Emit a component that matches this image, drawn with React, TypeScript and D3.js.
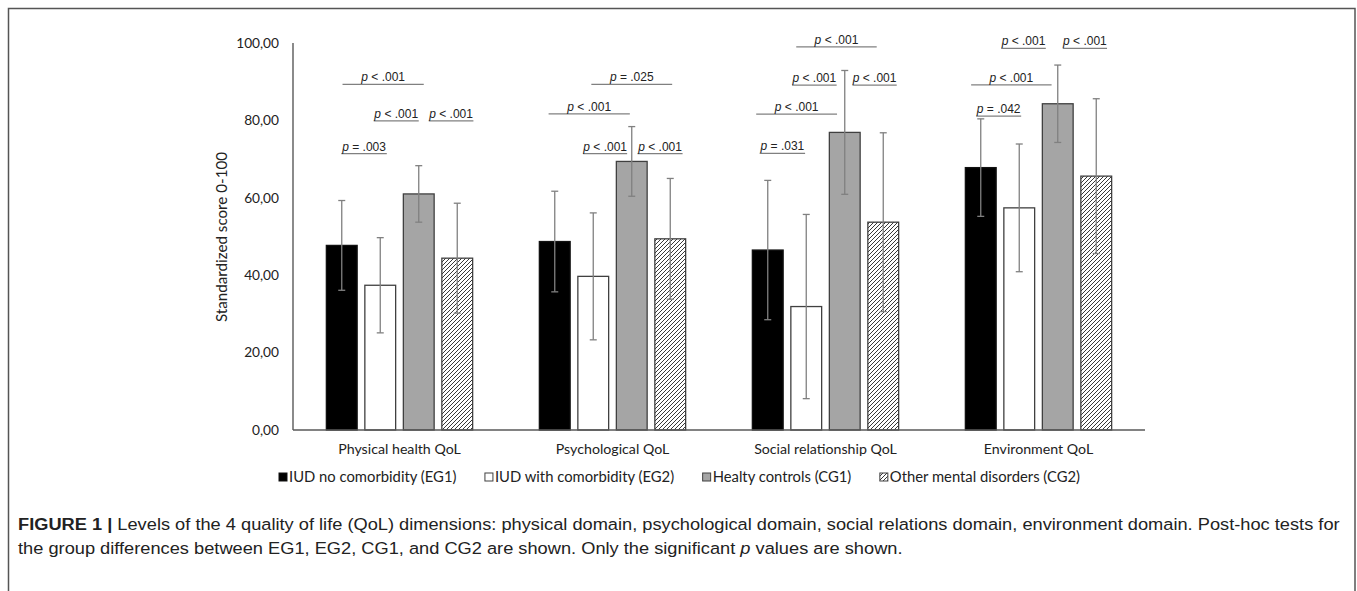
import React, { useLayoutEffect, useRef, useState } from "react";
import * as d3 from "d3";

const categories = ["Physical health QoL", "Psychological QoL", "Social relationship QoL", "Environment QoL"];
const seriesNames = ["IUD no comorbidity (EG1)", "IUD with comorbidity (EG2)", "Healty controls (CG1)", "Other mental disorders (CG2)"];
const seriesKeys = ["EG1", "EG2", "CG1", "CG2"];

const eg1Mean = [47.7, 48.7, 46.5, 67.8];
const eg1Err = [11.6, 13.0, 18.0, 12.6];
const eg2Mean = [37.4, 39.7, 31.9, 57.4];
const eg2Err = [12.3, 16.4, 23.8, 16.5];
const cg1Mean = [61.0, 69.4, 76.9, 84.3];
const cg1Err = [7.3, 9.0, 16.0, 10.0];
const cg2Mean = [44.4, 49.4, 53.7, 65.6];
const cg2Err = [14.2, 15.6, 23.1, 20.0];

const yTicks = [0, 20, 40, 60, 80, 100];

// significance annotations: [label, from slot, to slot, level]
const physicalSig: [string, number, number, number][] = [
  ["< .001", -1.48, 0.63, 89.3],
  ["< .001", -0.67, 0.5, 79.9],
  ["< .001", 0.76, 1.92, 79.9],
  ["= .003", -1.51, -0.33, 71.4],
];
const psychSig: [string, number, number, number][] = [
  ["= .025", -0.55, 1.55, 89.3],
  ["< .001", -1.66, 0.45, 81.7],
  ["< .001", -0.76, 0.38, 71.4],
  ["< .001", 0.65, 1.82, 71.4],
];
const socialSig: [string, number, number, number][] = [
  ["< .001", -0.76, 1.33, 99.0],
  ["< .001", -0.87, 0.29, 89.1],
  ["< .001", 0.7, 1.85, 89.1],
  ["< .001", -1.8, 0.3, 81.6],
  ["= .031", -1.71, -0.53, 71.5],
];
const envSig: [string, number, number, number][] = [
  ["< .001", -0.97, 0.19, 98.6],
  ["< .001", 0.63, 1.78, 98.6],
  ["< .001", -1.75, 0.34, 89.2],
  ["= .042", -1.62, -0.45, 81.1],
];

const captionBold = "FIGURE 1 |";
const captionLine1 =
  " Levels of the 4 quality of life (QoL) dimensions: physical domain, psychological domain, social relations domain, environment domain. Post-hoc tests for";
const captionLine2a = "the group differences between EG1, EG2, CG1, and CG2 are shown. Only the significant ";
const captionLine2b = " values are shown.";

const W = 1357;
const H = 591;
const plotLeft = 293;
const plotRight = 1145;
const plotTop = 43;
const plotBottom = 430;

const labelFont = "Lato, 'Open Sans', sans-serif";
const annFont = "'Liberation Sans', Arial, sans-serif";

export default function App() {
  const means = [eg1Mean, eg2Mean, cg1Mean, cg2Mean];
  const errs = [eg1Err, eg2Err, cg1Err, cg2Err];
  const sigs = [physicalSig, psychSig, socialSig, envSig];

  const capRef = useRef<SVGTextElement>(null);
  const legRefs = useRef<(SVGTextElement | null)[]>([]);
  const [capScale, setCapScale] = useState(1);
  const [legWidths, setLegWidths] = useState<number[]>([160, 175, 145, 190]);

  useLayoutEffect(() => {
    if (capRef.current) {
      const len = capRef.current.getComputedTextLength();
      if (len > 0) setCapScale(1322 / len);
    }
    const ws = legRefs.current.map((t) => (t ? t.getComputedTextLength() : 0));
    if (ws.every((w) => w > 0)) setLegWidths(ws);
  }, []);

  const x = d3.scaleBand<string>().domain(categories).range([plotLeft, plotRight]).padding(0);
  const band = x.bandwidth();
  const half = band * 0.3615;
  const sub = d3.scaleBand<string>().domain(seriesKeys).range([-half, half]).paddingInner(0.2).paddingOuter(0.1);
  const y = d3.scaleLinear().domain([0, 100]).range([plotBottom, plotTop]);
  const bw = sub.bandwidth();
  const step = sub.step();

  const fills = ["#000000", "#ffffff", "#a5a5a5", "url(#hatch)"];
  const strokes = ["#111111", "#404040", "#404040", "#404040"];

  // legend layout: centred on chart area, spanning 279..1080
  const legStart = 279;
  const legEnd = 1080;
  const entry = legWidths.map((w) => 10 + w);
  const gap = (legEnd - legStart - d3.sum(entry)) / (entry.length - 1);
  const legendX: number[] = [];
  let acc = legStart;
  entry.forEach((e) => {
    legendX.push(acc);
    acc += e + gap;
  });
  const legendY = 477;

  return (
    <svg width={W} height={H} style={{ position: "absolute", left: 0, top: 0, display: "block", background: "#fff" }}>
      <defs>
        <pattern id="hatch" patternUnits="userSpaceOnUse" width={4} height={4}>
          <rect width={4} height={4} fill="#fff" />
          <path d="M-1,1 l2,-2 M0,4 l4,-4 M3,5 l2,-2" stroke="#222" strokeWidth={0.9} />
        </pattern>
      </defs>
      {/* frame */}
      <rect x={8.5} y={8.5} width={1346.5} height={600} fill="none" stroke="#555" strokeWidth={1.5} />

      {/* y tick labels */}
      {yTicks.map((t) => (
        <text key={t} x={279} y={y(t)} dy="0.35em" textAnchor="end" fontFamily={labelFont} fontSize={13.7} fill="#222">
          {d3.format(".2f")(t).replace(".", ",")}
        </text>
      ))}
      <text
        transform={`translate(222,237) rotate(-90)`}
        textAnchor="middle"
        dy="0.35em"
        fontFamily={labelFont}
        fontSize={15.2}
        fill="#222"
      >
        Standardized score 0-100
      </text>

      {/* bars */}
      {categories.map((c, ci) => {
        const cx = (x(c) as number) + band / 2;
        return (
          <g key={c}>
            {seriesKeys.map((s, si) => {
              const x0 = cx + (sub(s) as number);
              const v = means[si][ci];
              return (
                <rect
                  key={s}
                  x={x0}
                  y={y(v)}
                  width={bw}
                  height={y(0) - y(v)}
                  fill={fills[si]}
                  stroke={strokes[si]}
                  strokeWidth={1.3}
                />
              );
            })}
            {seriesKeys.map((s, si) => {
              const xm = cx + (sub(s) as number) + bw / 2;
              const v = means[si][ci];
              const e = errs[si][ci];
              return (
                <g key={s} stroke="#808080" strokeWidth={1.3}>
                  <line x1={xm} x2={xm} y1={y(v + e)} y2={y(v - e)} />
                  <line x1={xm - 3.5} x2={xm + 3.5} y1={y(v + e)} y2={y(v + e)} />
                  <line x1={xm - 3.5} x2={xm + 3.5} y1={y(v - e)} y2={y(v - e)} />
                </g>
              );
            })}
            {sigs[ci].map(([lab, f, t, lev], k) => {
              const x1 = cx + f * step;
              const x2 = cx + t * step;
              const yy = y(lev);
              return (
                <g key={k}>
                  <line x1={x1} x2={x2} y1={yy} y2={yy} stroke="#808080" strokeWidth={1.3} />
                  <text
                    x={(x1 + x2) / 2}
                    y={yy - 3}
                    textAnchor="middle"
                    fontFamily={annFont}
                    fontSize={12}
                    fill="#222"
                  >
                    <tspan fontStyle="italic">p</tspan>
                    {" " + lab}
                  </text>
                </g>
              );
            })}
            <text x={cx} y={454} textAnchor="middle" fontFamily={labelFont} fontSize={14.2} fill="#222">
              {c}
            </text>
          </g>
        );
      })}

      {/* axes */}
      <line x1={plotLeft} x2={plotLeft} y1={plotTop} y2={plotBottom} stroke="#595959" strokeWidth={1.4} />
      <line x1={plotLeft} x2={plotRight} y1={plotBottom} y2={plotBottom} stroke="#595959" strokeWidth={1.4} />

      {/* legend */}
      {seriesNames.map((n, i) => (
        <g key={n}>
          <rect
            x={legendX[i]}
            y={legendY - 4}
            width={8}
            height={8}
            fill={fills[i]}
            stroke={strokes[i]}
            strokeWidth={1}
          />
          <text
            ref={(el) => {
              legRefs.current[i] = el;
            }}
            x={legendX[i] + 10}
            y={legendY}
            dy="0.35em"
            fontFamily={labelFont}
            fontSize={14.8}
            fill="#222"
          >
            {n}
          </text>
        </g>
      ))}

      {/* caption */}
      <g transform={`translate(18,0) scale(${capScale},1)`}>
        <text ref={capRef} x={0} y={530} fontFamily={annFont} fontSize={17} fill="#222">
          <tspan fontWeight="bold">{captionBold}</tspan>
          {captionLine1}
        </text>
        <text x={0} y={554} fontFamily={annFont} fontSize={17} fill="#222">
          {captionLine2a}
          <tspan fontStyle="italic">p</tspan>
          {captionLine2b}
        </text>
      </g>
    </svg>
  );
}
